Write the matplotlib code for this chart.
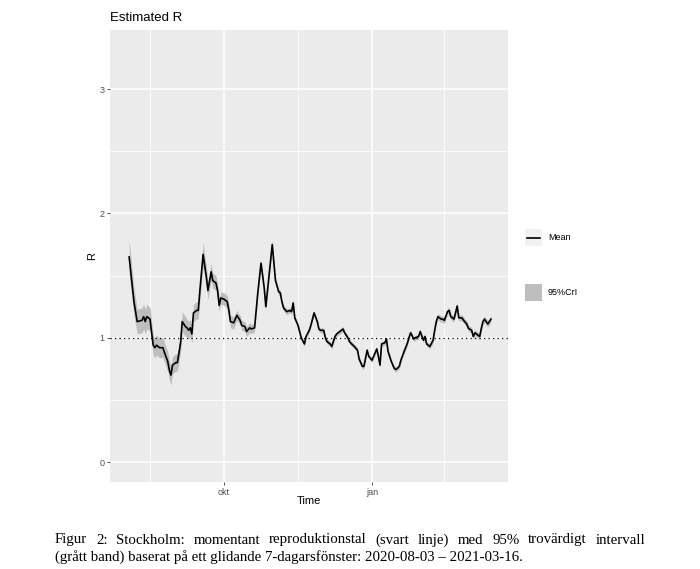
import numpy as np
import pandas as pd
import matplotlib
matplotlib.use("Agg")
import matplotlib.pyplot as plt
from matplotlib.patches import Rectangle
from matplotlib.lines import Line2D

start = pd.Timestamp("2020-08-03")

# dagar efter 2020-08-03, medel-R och halva bredden på 95%CrI
days = [0, 2, 3, 5, 8, 9, 10, 11, 13, 14,
        15, 16, 17, 19, 21, 22, 24, 25, 26, 27,
        29, 30, 32, 33, 35, 36, 37, 38, 39, 40,
        42, 43, 44, 46, 48, 49, 51, 52, 54, 55,
        56, 57, 59, 61, 62, 63, 65, 67, 69, 70,
        72, 73, 75, 76, 78, 80, 82, 84, 85, 87,
        89, 90, 91, 93, 94, 95, 96, 98, 100, 101,
        102, 103, 105, 106, 107, 109, 110, 112, 113, 115,
        117, 118, 119, 121, 122, 123, 125, 126, 128, 129,
        131, 133, 134, 136, 137, 138, 140, 142, 143, 145,
        146, 148, 149, 151, 152, 154, 155, 156, 157, 159,
        160, 161, 162, 163, 165, 166, 168, 169, 171, 173,
        174, 175, 177, 178, 180, 181, 183, 184, 185, 187,
        189, 190, 191, 192, 194, 195, 196, 198, 199, 200,
        202, 204, 205, 207, 208, 210, 211, 213, 214, 215,
        216, 218, 219, 220, 221, 223, 225]

r_mean = [1.65, 1.41, 1.29, 1.13, 1.14, 1.17, 1.13, 1.17, 1.15, 1.04,
          0.94, 0.92, 0.94, 0.92, 0.92, 0.88, 0.81, 0.74, 0.70, 0.78,
          0.80, 0.80, 0.96, 1.13, 1.09, 1.08, 1.06, 1.08, 1.03, 1.20,
          1.22, 1.22, 1.38, 1.67, 1.49, 1.38, 1.53, 1.46, 1.44, 1.38,
          1.26, 1.32, 1.31, 1.29, 1.22, 1.13, 1.12, 1.18, 1.14, 1.10,
          1.09, 1.05, 1.08, 1.07, 1.08, 1.36, 1.60, 1.40, 1.25, 1.50,
          1.75, 1.60, 1.46, 1.37, 1.36, 1.29, 1.24, 1.21, 1.22, 1.21,
          1.28, 1.16, 1.10, 1.05, 1.00, 0.95, 1.01, 1.06, 1.10, 1.20,
          1.13, 1.07, 1.06, 1.06, 1.00, 0.97, 0.95, 0.93, 1.01, 1.03,
          1.05, 1.07, 1.04, 1.00, 0.97, 0.955, 0.93, 0.90, 0.83, 0.77,
          0.77, 0.90, 0.85, 0.82, 0.85, 0.91, 0.85, 0.78, 0.95, 0.96,
          0.99, 0.89, 0.85, 0.81, 0.75, 0.745, 0.77, 0.82, 0.89, 0.955,
          1.00, 1.04, 0.99, 1.00, 1.01, 1.05, 0.98, 1.01, 0.95, 0.93,
          0.98, 1.06, 1.13, 1.17, 1.15, 1.15, 1.14, 1.21, 1.22, 1.17,
          1.15, 1.255, 1.16, 1.16, 1.14, 1.11, 1.075, 1.06, 1.01, 1.04,
          1.03, 1.01, 1.075, 1.13, 1.15, 1.11, 1.15]

cri_half = [0.14, 0.12, 0.11, 0.10, 0.10, 0.10, 0.10, 0.10, 0.09, 0.09,
            0.08, 0.08, 0.08, 0.08, 0.08, 0.08, 0.08, 0.08, 0.08, 0.07,
            0.07, 0.07, 0.08, 0.08, 0.08, 0.07, 0.07, 0.07, 0.07, 0.07,
            0.07, 0.07, 0.08, 0.10, 0.08, 0.07, 0.07, 0.06, 0.06, 0.06,
            0.05, 0.05, 0.05, 0.05, 0.05, 0.05, 0.05, 0.04, 0.04, 0.04,
            0.04, 0.04, 0.04, 0.04, 0.03, 0.03, 0.03, 0.03, 0.03, 0.03,
            0.03, 0.03, 0.03, 0.025, 0.025, 0.025, 0.025, 0.025, 0.02, 0.02,
            0.02, 0.02, 0.02, 0.02, 0.02, 0.02, 0.02, 0.02, 0.02, 0.02,
            0.02, 0.02, 0.02, 0.02, 0.02, 0.02, 0.02, 0.02, 0.02, 0.02,
            0.02, 0.02, 0.02, 0.02, 0.02, 0.02, 0.02, 0.02, 0.02, 0.02,
            0.02, 0.02, 0.02, 0.02, 0.02, 0.02, 0.02, 0.02, 0.02, 0.02,
            0.02, 0.02, 0.02, 0.02, 0.02, 0.02, 0.02, 0.02, 0.02, 0.02,
            0.02, 0.02, 0.02, 0.02, 0.02, 0.02, 0.02, 0.02, 0.02, 0.02,
            0.025, 0.025, 0.025, 0.025, 0.025, 0.025, 0.025, 0.025, 0.025, 0.025,
            0.025, 0.025, 0.025, 0.025, 0.025, 0.025, 0.025, 0.025, 0.025, 0.025,
            0.025, 0.025, 0.025, 0.025, 0.025, 0.025, 0.025]

x_ticks = ["2020-10-01", "2021-01-01"]
x_tick_labels = ["okt", "jan"]
x_minor = ["2020-08-16", "2020-11-16", "2021-02-15"]
y_ticks = [0, 1, 2, 3]
y_minor = [0.5, 1.5, 2.5]

cap1 = "Figur 2: Stockholm: momentant reproduktionstal (svart linje) med 95% trovärdigt intervall"
cap2 = "(grått band) baserat på ett glidande 7-dagarsfönster: 2020-08-03 – 2021-03-16."

dates = start + pd.to_timedelta(days, unit="D")
mean = np.array(r_mean)
half = np.array(cri_half)

plt.rcParams["font.family"] = ["Liberation Sans", "DejaVu Sans"]

W, H = 700, 569
fig = plt.figure(figsize=(W / 100, H / 100), dpi=100)
ax = fig.add_axes([110 / W, 1 - 482 / H, 398 / W, 452 / H])
ax.set_facecolor("#EBEBEB")
for s in ax.spines.values():
    s.set_visible(False)
ax.set_axisbelow(True)

ax.fill_between(dates, mean - half, mean + half, color="#BEBEBE", lw=0)
ax.plot(dates, mean, color="black", lw=1.2)
ax.axhline(1, color="black", lw=0.9, ls=(0, (1, 2.6)))

ax.set_xlim(start + pd.Timedelta(days=-11.9), start + pd.Timedelta(days=235.6))
ax.set_ylim(-0.16, 3.475)
ax.set_xticks(pd.to_datetime(x_ticks))
ax.set_xticklabels(x_tick_labels)
ax.set_xticks(pd.to_datetime(x_minor), minor=True)
ax.set_yticks(y_ticks)
ax.set_yticks(y_minor, minor=True)
ax.grid(which="major", color="white", lw=1.1)
ax.grid(which="minor", color="white", lw=0.55)
ax.tick_params(which="major", length=2.2, width=0.6, color="#333333",
               labelcolor="#4D4D4D", labelsize=6.5, pad=2)
ax.tick_params(which="minor", length=0)

fig.text(110 / W, 1 - 18 / H, "Estimated R", fontsize=9.5, va="center")
fig.text(92 / W, 1 - 256 / H, "R", rotation=90, fontsize=8, va="center", ha="center")
fig.text(309 / W, 1 - 501 / H, "Time", fontsize=8, va="center", ha="center")

# legend
fig.add_artist(Rectangle((525 / W, 1 - 246 / H), 17 / W, 17 / H, transform=fig.transFigure,
                         facecolor="#F2F2F2", edgecolor="none"))
fig.add_artist(Line2D([527 / W, 540 / W], [1 - 238 / H, 1 - 238 / H],
                      transform=fig.transFigure, color="black", lw=1.2))
fig.text(548 / W, 1 - 238 / H, "Mean", fontsize=6.5, va="center")
fig.add_artist(Rectangle((525 / W, 1 - 301 / H), 17 / W, 17 / H, transform=fig.transFigure,
                         facecolor="#BEBEBE", edgecolor="none"))
fig.text(548 / W, 1 - 293 / H, "95%CrI", fontsize=6.5, va="center")

# caption, first line justified
serif = ["Liberation Serif", "DejaVu Serif"]
fig.canvas.draw()
r = fig.canvas.get_renderer()
words = cap1.split(" ")
ts = [fig.text(0, 1 - 540 / H, w, family=serif, fontsize=10.7, va="center") for w in words]
widths = [t.get_window_extent(r).width for t in ts]
gap = (590 - sum(widths)) / (len(words) - 1)
x = 55
for t, w in zip(ts, widths):
    t.set_x(x / W)
    x += w + gap
fig.text(55 / W, 1 - 557 / H, cap2, family=serif, fontsize=10.7, va="center")

fig.savefig("out.png", dpi=100)
